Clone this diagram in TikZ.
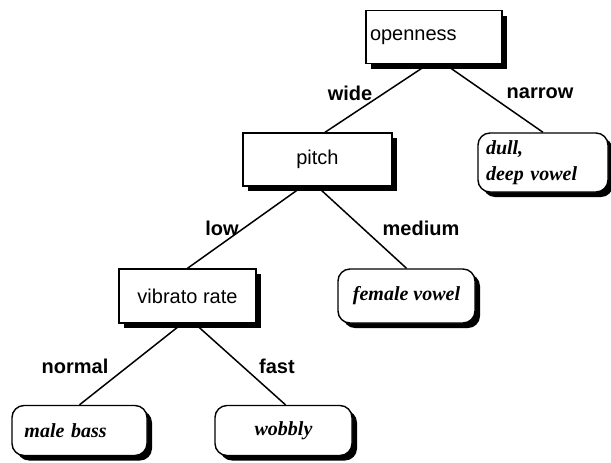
\documentclass[tikz,border=0pt]{standalone}
\usepackage{fontspec}
\setmainfont{Liberation Sans}
\newfontfamily\leaffont{Liberation Serif}
\usetikzlibrary{shadows}
\tikzset{
  question/.style={draw, line width=0.7pt, fill=white, inner sep=2pt,
    minimum height=26.5pt, font=\fontsize{10}{12}\selectfont,
    drop shadow={shadow xshift=2.5pt, shadow yshift=-2.5pt, fill=black, opacity=1}},
  answer/.style={draw, line width=0.7pt, fill=white, rounded corners=6pt, inner sep=2pt,
    minimum height=25pt, font=\leaffont\bfseries\itshape\fontsize{10}{13}\selectfont,
    drop shadow={shadow xshift=2.5pt, shadow yshift=-2.5pt, fill=black, opacity=1}},
  choice/.style={font=\bfseries\fontsize{10}{12}\selectfont},
  branch/.style={line width=0.75pt}
}
\begin{document}
\begin{tikzpicture}[x=0.5pt,y=-0.5pt]
          \useasboundingbox (0,0) rectangle (611,462);

          \node[question, minimum width=68pt, text width=64pt, align=left] (Openness) at (434,37) {openness};
          \node[question, minimum width=74.5pt] (Pitch) at (317.5,159.5) {pitch};
          \node[question, minimum width=68.5pt, minimum height=27pt] (Vibrato) at (187.5,296) {vibrato rate};

          \node[answer, minimum width=65pt, minimum height=29.5pt, text width=57pt, align=left] (Dull) at (543,162.5) {dull,\\deep vowel};
          \node[answer, minimum width=68.5pt, minimum height=27pt] (Female) at (406.5,296) {female vowel};
          \node[answer, minimum width=67.5pt, text width=55pt, align=left] (Male) at (79.5,430.5) {male bass};
          \node[answer, minimum width=68.5pt] (Wobbly) at (283.5,430.5) {wobbly};

          \draw[branch] ([xshift=-3pt]Openness.south) to ([xshift=3.75pt]Pitch.north);
          \draw[branch] ([xshift=5.5pt]Openness.south) to (Dull.north);
          \draw[branch] ([xshift=-7.75pt]Pitch.south) to (Vibrato.north);
          \draw[branch] (Pitch.south) to (Female.north);
          \draw[branch] ([xshift=-2.75pt]Vibrato.south) to (Male.north);
          \draw[branch] ([xshift=3.75pt]Vibrato.south) to ([xshift=1pt]Wobbly.north);

          \node[choice] (Wide) at (350,93) {wide};
          \node[choice] (Narrow) at (540,93) {narrow};
          \node[choice] (Low) at (222,228) {low};
          \node[choice] (Medium) at (421,228) {medium};
          \node[choice] (Normal) at (75,366) {normal};
          \node[choice] (Fast) at (277,366) {fast};
        \end{tikzpicture}
\end{document}
